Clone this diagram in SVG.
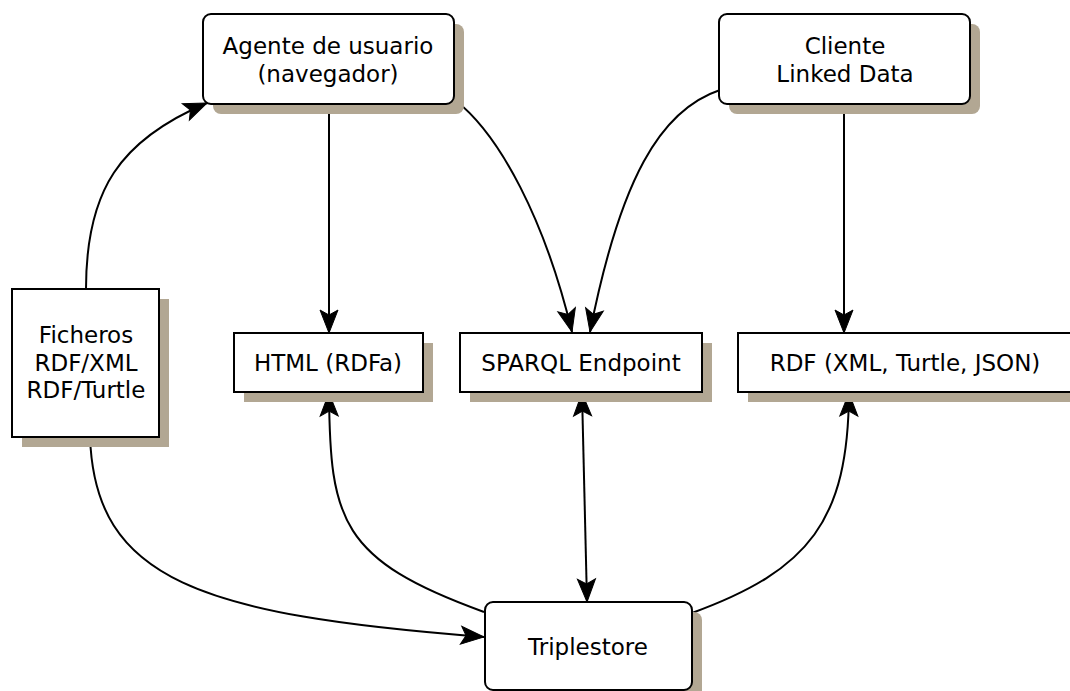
<svg xmlns="http://www.w3.org/2000/svg" width="1070" height="691" viewBox="0 0 1070 691">
<style>
.box{fill:#fff;stroke:#000;stroke-width:2}
.sh{fill:#b2a793}
.t{font-family:"DejaVu Sans",sans-serif;font-size:23px;fill:#000;text-anchor:middle}
.c{fill:none;stroke:#000;stroke-width:2}
</style>
<defs>
<marker id="ah" markerUnits="userSpaceOnUse" markerWidth="28" markerHeight="22" viewBox="-26 -11 28 22" refX="0" refY="0" orient="auto-start-reverse">
<path d="M0,0 L-23,-9 L-18,0 L-23,9 Z" fill="#000" stroke="#000" stroke-width="1" stroke-linejoin="miter"/>
</marker>
</defs>
<rect width="1070" height="691" fill="#fff"/>
<g id="connectors">
<path class="c" d="M329,104 L329,333" marker-end="url(#ah)"/>
<path class="c" d="M844,104 L844,333" marker-end="url(#ah)"/>
<path class="c" d="M455,100 C500,135 545,220 572,332" marker-end="url(#ah)"/>
<path class="c" d="M720,90 C660,110 620,180 590,332" marker-end="url(#ah)"/>
<path class="c" d="M86,289 C86,190 120,140 207,103" marker-end="url(#ah)"/>
<path class="c" d="M90,437 C95,580 200,615 484,637" marker-end="url(#ah)"/>
<path class="c" d="M484,612 C340,560 330,520 329,393" marker-end="url(#ah)"/>
<path class="c" d="M692,613 C810,570 848,520 849,393" marker-end="url(#ah)"/>
<path class="c" d="M582,393 L587,602" marker-start="url(#ah)" marker-end="url(#ah)"/>
</g>
<g id="agente">
<rect class="sh" x="213" y="24" width="251" height="90" rx="8"/>
<rect class="box" x="203" y="14" width="251" height="90" rx="8"/>
<text class="t" x="328" y="54">Agente de usuario</text>
<text class="t" x="328" y="82">(navegador)</text>
</g>
<g id="cliente">
<rect class="sh" x="729" y="24" width="251" height="90" rx="8"/>
<rect class="box" x="719" y="14" width="251" height="90" rx="8"/>
<text class="t" x="845" y="54">Cliente</text>
<text class="t" x="845" y="82">Linked Data</text>
</g>
<g id="ficheros">
<rect class="sh" x="22" y="299" width="147" height="148"/>
<rect class="box" x="12" y="289" width="147" height="148"/>
<text class="t" x="86" y="343">Ficheros</text>
<text class="t" x="86" y="371">RDF/XML</text>
<text class="t" x="86" y="398">RDF/Turtle</text>
</g>
<g id="html">
<rect class="sh" x="244" y="343" width="189" height="59"/>
<rect class="box" x="234" y="333" width="189" height="59"/>
<text class="t" x="328" y="371">HTML (RDFa)</text>
</g>
<g id="sparql">
<rect class="sh" x="470" y="343" width="242" height="59"/>
<rect class="box" x="460" y="333" width="242" height="59"/>
<text class="t" x="581" y="371">SPARQL Endpoint</text>
</g>
<g id="rdf">
<rect class="sh" x="748" y="343" width="334" height="59"/>
<rect class="box" x="738" y="333" width="334" height="59"/>
<text class="t" x="905" y="371">RDF (XML, Turtle, JSON)</text>
</g>
<g id="triplestore">
<rect class="sh" x="495" y="612" width="207" height="88" rx="8"/>
<rect class="box" x="485" y="602" width="207" height="88" rx="8"/>
<text class="t" x="588" y="655">Triplestore</text>
</g>
</svg>
